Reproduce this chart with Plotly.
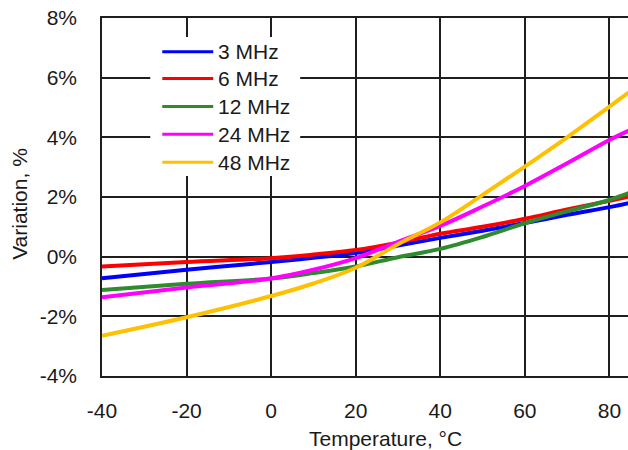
import plotly.graph_objects as go

temps = [-40, -20, 0, 10, 20, 30, 40, 50, 60, 70, 80, 85]
v_3mhz = [-0.72, -0.44, -0.18, -0.04, 0.12, 0.37, 0.63, 0.87, 1.13, 1.40, 1.66, 1.81]
v_6mhz = [-0.33, -0.18, -0.05, 0.07, 0.22, 0.47, 0.77, 1.00, 1.27, 1.58, 1.87, 2.03]
v_12mhz = [-1.12, -0.91, -0.73, -0.55, -0.33, -0.02, 0.26, 0.66, 1.12, 1.52, 1.90, 2.15]
v_24mhz = [-1.36, -1.03, -0.73, -0.44, -0.05, 0.50, 1.03, 1.68, 2.37, 3.13, 3.91, 4.25]
v_48mhz = [-2.65, -2.03, -1.32, -0.90, -0.37, 0.42, 1.15, 2.07, 3.02, 4.00, 5.03, 5.55]

names = ["3 MHz", "6 MHz", "12 MHz", "24 MHz", "48 MHz"]
series = [v_3mhz, v_6mhz, v_12mhz, v_24mhz, v_48mhz]
colors = ["#0000ff", "#ff0000", "#2e8b2e", "#ff00ff", "#ffc000"]

x_ticks = [-40, -20, 0, 20, 40, 60, 80]
y_ticks = [-4, -2, 0, 2, 4, 6, 8]
y_ticklabels = ["-4%", "-2%", "0%", "2%", "4%", "6%", "8%"]
x_title = "Temperature, °C"
y_title = "Variation, %"

FONT = "Liberation Sans, Arial, sans-serif"
FS = 21
TXT = "#1a1a1a"
GRID = "#1e1e1e"

fig = go.Figure()
for name, vals, col in zip(names, series, colors):
    fig.add_trace(go.Scatter(
        x=temps, y=vals, name=name, mode="lines",
        line=dict(color=col, width=4, shape="spline", smoothing=1.0),
        showlegend=False,
    ))

W, H = 628, 450
L, R, T, B = 101.7, 0, 18, 74
pw, ph = W - L - R, H - T - B

def px(x):
    return (x - L) / pw

def py(y):
    return (H - B - y) / ph

# Manual legend (white box hiding the grid, line samples and labels)
fig.add_shape(type="rect", xref="paper", yref="paper",
              x0=px(150), x1=px(300), y0=py(176), y1=py(37),
              fillcolor="white", line=dict(width=0), layer="above")
row_y = [51.7, 78.5, 106.5, 134.3, 162.3]
for name, col, ry in zip(names, colors, row_y):
    fig.add_shape(type="line", xref="paper", yref="paper",
                  x0=px(162), x1=px(213), y0=py(ry), y1=py(ry),
                  line=dict(color=col, width=3), layer="above")
    fig.add_annotation(xref="paper", yref="paper", x=px(216), y=py(ry),
                       text=name, showarrow=False, xanchor="left",
                       yanchor="middle", font=dict(family=FONT, size=FS, color=TXT))

# Axis titles
fig.add_annotation(xref="paper", yref="paper", x=px(385), y=py(438),
                   text=x_title, showarrow=False, xanchor="center", yanchor="middle",
                   font=dict(family=FONT, size=FS, color=TXT))
fig.add_annotation(xref="paper", yref="paper", x=px(19.5), y=py(204),
                   text=y_title, showarrow=False, xanchor="center", yanchor="middle",
                   textangle=-90, font=dict(family=FONT, size=FS, color=TXT))

fig.update_layout(
    width=W, height=H,
    margin=dict(l=L, r=R, t=T, b=B, autoexpand=False),
    paper_bgcolor="white", plot_bgcolor="white",
    font=dict(family=FONT, size=FS, color=TXT),
    showlegend=False,
)
fig.update_xaxes(
    range=[-40, 84.4], tickvals=x_ticks, ticktext=[str(v) for v in x_ticks],
    showgrid=True, gridcolor=GRID, gridwidth=1.5,
    showline=True, linecolor=GRID, linewidth=1.5, mirror=True,
    zeroline=False, ticks="", ticklabelstandoff=15, automargin=False,
    ticklabeloverflow="allow",
)
fig.update_yaxes(
    range=[-4, 8], tickvals=y_ticks, ticktext=y_ticklabels,
    showgrid=True, gridcolor=GRID, gridwidth=1.5,
    showline=True, linecolor=GRID, linewidth=1.5, mirror=False,
    zeroline=False, ticks="", ticklabelstandoff=19, automargin=False,
    ticklabeloverflow="allow",
)

fig.write_html(
    "out.html",
    config={"displayModeBar": False},
    post_script="document.body.style.margin='0px';document.body.style.overflow='hidden';",
)
